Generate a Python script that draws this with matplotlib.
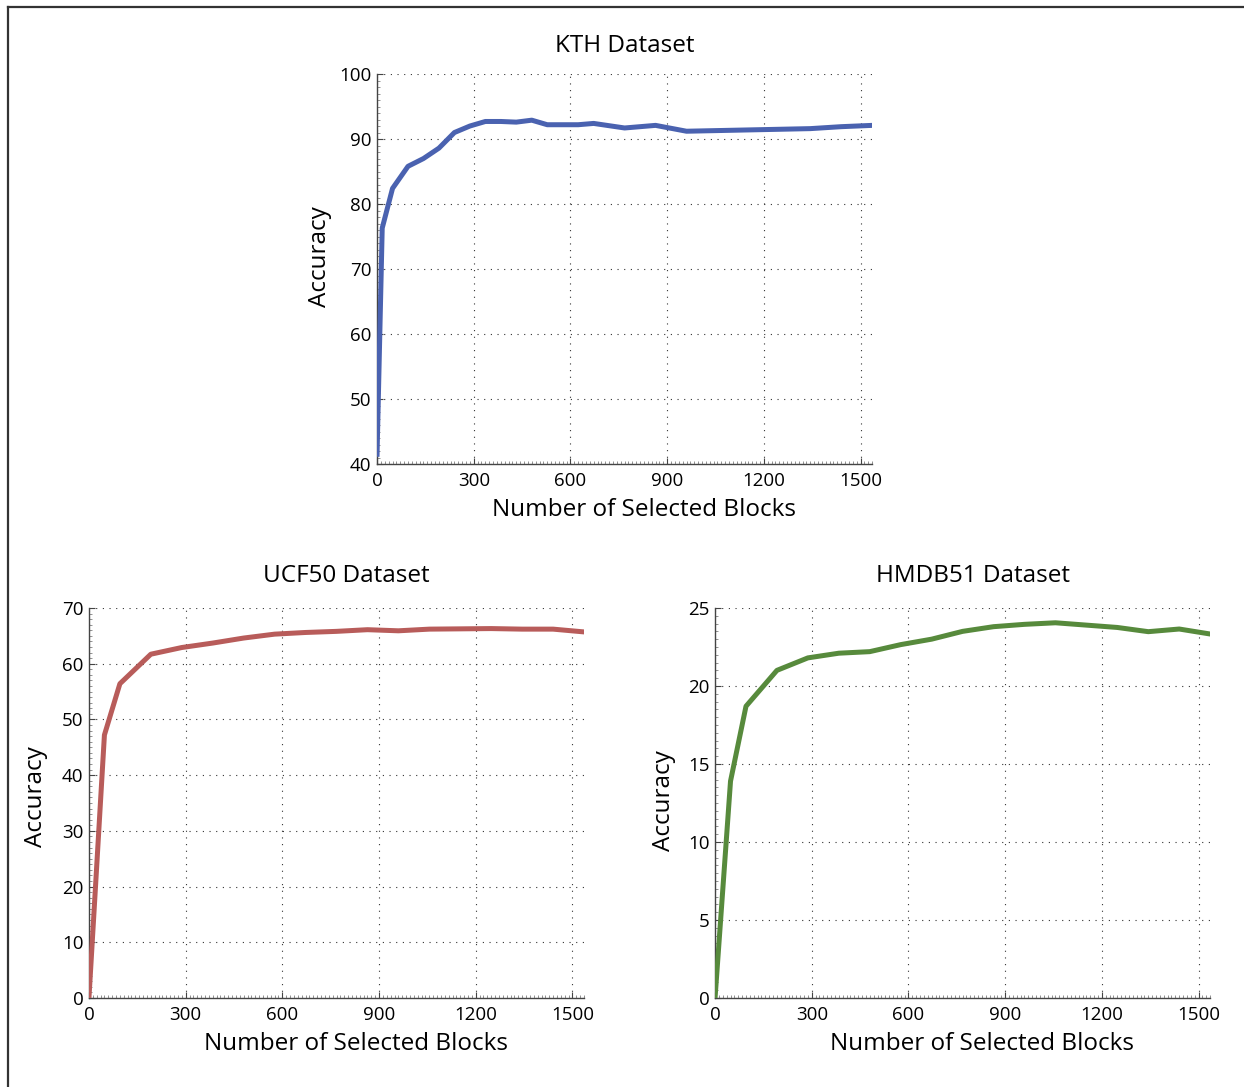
import numpy as np
import matplotlib
matplotlib.use("Agg")
from matplotlib import pyplot as plt
from matplotlib.lines import Line2D
from matplotlib.ticker import MultipleLocator

plt.rcParams['font.family'] = ['Open Sans', 'DejaVu Sans']

# number of selected blocks (x) and accuracy (y) for each dataset
kth_blocks = [0, 16, 48, 96, 144, 192, 240, 288, 336, 384, 432, 480, 528, 576,
              624, 672, 768, 864, 960, 1056, 1152, 1248, 1344, 1440, 1536]
kth_acc = [41.5, 76.3, 82.4, 85.8, 87.0, 88.6, 91.0, 92.0, 92.7, 92.7, 92.6,
           92.9, 92.2, 92.2, 92.2, 92.4, 91.7, 92.1, 91.2, 91.3, 91.4, 91.5,
           91.6, 91.9, 92.1]

blocks = [0, 48, 96, 192, 288, 384, 480, 576, 672, 768, 864, 960, 1056, 1152,
          1248, 1344, 1440, 1536]
ucf_acc = [0, 47.2, 56.4, 61.7, 62.9, 63.7, 64.6, 65.3, 65.6, 65.8, 66.1, 65.9,
           66.2, 66.25, 66.3, 66.2, 66.2, 65.7]
hmdb_acc = [0, 13.9, 18.7, 21.0, 21.8, 22.1, 22.2, 22.65, 23.0, 23.5, 23.8,
            23.95, 24.05, 23.9, 23.75, 23.48, 23.65, 23.33]

xticks = [0, 300, 600, 900, 1200, 1500]

fig = plt.figure(figsize=(12.44, 10.87), dpi=100)

# frame lines along the left and top edge of the page
fig.add_artist(Line2D([0.0064, 0.0064], [0, 0.9936], color='#333333', lw=1.6,
                      transform=fig.transFigure))
fig.add_artist(Line2D([0.0064, 1.0], [0.9936, 0.9936], color='#333333', lw=1.6,
                      transform=fig.transFigure))


def make_panel(rect, x, y, color, title, ylim, ystep,
               title_x=0.5, title_pad=16, ylab_xy=(-0.09, 0.5)):
    ax = fig.add_axes(rect)
    ax.plot(x, y, color=color, lw=3.6, solid_joinstyle='round', zorder=3)
    ax.set_xlim(0, 1536)
    ax.set_ylim(*ylim)
    ax.set_xticks(xticks)
    ax.yaxis.set_major_locator(MultipleLocator(ystep))
    ax.xaxis.set_minor_locator(MultipleLocator(12))
    ax.yaxis.set_minor_locator(MultipleLocator(ystep / 10))
    for side in ['top', 'right']:
        ax.spines[side].set_visible(False)
    for side in ['left', 'bottom']:
        ax.spines[side].set_color('#444444')
        ax.spines[side].set_linewidth(1.0)
    ax.tick_params(which='major', direction='in', length=4, width=0.8,
                   colors='#444444', labelcolor='black', labelsize=13.5)
    ax.tick_params(axis='x', which='major', pad=6)
    ax.tick_params(axis='y', which='major', pad=4)
    ax.tick_params(which='minor', direction='in', length=2, width=0.5,
                   colors='#666666')
    ax.grid(True, which='major', color='#333333', linestyle=(0, (1, 5)),
            linewidth=0.8)
    ax.set_axisbelow(True)
    ax.set_title(title, fontsize=17.5, pad=title_pad, x=title_x)
    ax.set_xlabel('Number of Selected Blocks', fontsize=17.5)
    ax.xaxis.set_label_coords(0.54, -0.088)
    ax.set_ylabel('Accuracy', fontsize=17.5)
    ax.yaxis.set_label_coords(*ylab_xy)
    return ax


make_panel([0.3031, 0.5731, 0.398, 0.3588], kth_blocks, kth_acc, '#4a62b0',
           'KTH Dataset', (40, 100), 10, ylab_xy=(-0.091, 0.531))
make_panel([0.0715, 0.0819, 0.398, 0.3588], blocks, ucf_acc, '#b85c5a',
           'UCF50 Dataset', (0, 70), 10, title_x=0.52, title_pad=19,
           ylab_xy=(-0.083, 0.515))
make_panel([0.5748, 0.0819, 0.398, 0.3588], blocks, hmdb_acc, '#578a3c',
           'HMDB51 Dataset', (0, 25), 5, title_x=0.52, title_pad=19,
           ylab_xy=(-0.079, 0.505))

fig.savefig('out.png', dpi=100)
